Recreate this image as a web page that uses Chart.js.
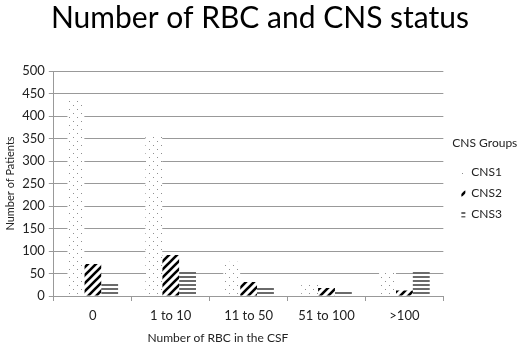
<!DOCTYPE html>
<html><head><meta charset="utf-8">
<script src="https://cdn.jsdelivr.net/npm/chart.js@4/dist/chart.umd.min.js"></script>
<style>html,body{margin:0;padding:0;background:#fff}#wrap{width:520px;height:345px}</style>
</head><body><div id="wrap"><canvas id="c" width="520" height="345"></canvas></div>
<script>
const categories = ['0', '1 to 10', '11 to 50', '51 to 100', '>100'];
const seriesNames = ['CNS1', 'CNS2', 'CNS3'];
const cns1 = [436, 357, 76, 25, 57];
const cns2 = [71, 91, 31, 18, 12];
const cns3 = [30, 58, 18, 10, 55];
const yTicks = [0, 50, 100, 150, 200, 250, 300, 350, 400, 450, 500];

function makePattern(kind) {
  const c = document.createElement('canvas');
  const ctx = c.getContext('2d');
  if (kind === 'dots') {
    c.width = 8; c.height = 8;
    ctx.fillStyle = '#fff'; ctx.fillRect(0,0,8,8);
    ctx.fillStyle = '#8f8f8f';
    ctx.fillRect(1,1,1,1); ctx.fillRect(5,5,1,1);
  } else if (kind === 'diag') {
    c.width = 8; c.height = 8;
    ctx.fillStyle = '#fff'; ctx.fillRect(0,0,8,8);
    ctx.strokeStyle = '#000'; ctx.lineWidth = 2.6;
    ctx.beginPath();
    ctx.moveTo(-2,10); ctx.lineTo(10,-2);
    ctx.moveTo(-6,6); ctx.lineTo(6,-6);
    ctx.moveTo(2,14); ctx.lineTo(14,2);
    ctx.stroke();
  } else {
    c.width = 4; c.height = 4;
    ctx.fillStyle = '#fff'; ctx.fillRect(0,0,4,4);
    ctx.fillStyle = '#6a6a6a'; ctx.fillRect(0,0,4,2);
  }
  return ctx.createPattern(c, 'repeat');
}
const pats = [makePattern('dots'), makePattern('diag'), makePattern('lines')];
const values = [cns1, cns2, cns3];
const FONT = 'Lato';

const widenLegend = {
  id: 'widenLegend',
  beforeInit(chart) {
    const lg = chart.legend;
    if (!lg) return;
    const origFit = lg.fit.bind(lg);
    lg.fit = function () { origFit(); this.width += 17; };
    const origDraw = lg.draw.bind(lg);
    lg.draw = function () {
      const ctx = this.ctx;
      ctx.save(); ctx.translate(9, 0); origDraw(); ctx.restore();
    };
  }
};

new Chart(document.getElementById('c'), {
  type: 'bar',
  data: {
    labels: categories,
    datasets: seriesNames.map((n, i) => ({
      label: n, data: values[i], backgroundColor: pats[i], borderWidth: 0,
      categoryPercentage: 0.65, barPercentage: 1.0
    }))
  },
  plugins: [widenLegend],
  options: {
    responsive: false, animation: false,
    layout: { padding: { left: 0, right: 0, top: 0, bottom: 0 } },
    plugins: {
      title: { display: true, text: 'Number of RBC and CNS status', color: '#000',
        font: { family: FONT, size: 30, weight: 'normal' }, padding: { top: 0, bottom: 35 } },
      legend: { position: 'right', align: 'start',
        title: { display: true, position: 'start', text: 'CNS Groups', color: '#222', font: { family: FONT, size: 12 }, padding: { top: 137, bottom: 6 } },
        labels: { boxWidth: 4, boxHeight: 6, color: '#222', font: { family: FONT, size: 12 }, padding: 9 } },
      tooltip: { enabled: false }
    },
    scales: {
      x: {
        grid: { display: true, drawOnChartArea: false, offset: true, color: '#999', tickLength: 5 },
        border: { color: '#999' },
        ticks: { color: '#222', font: { family: FONT, size: 13 }, padding: 7 },
        title: { display: true, text: 'Number of RBC in the CSF                    ', color: '#222', font: { family: FONT, size: 12 }, padding: { top: 0, bottom: 0 } }
      },
      y: {
        min: 0, max: 500,
        afterBuildTicks: (s) => { s.ticks = yTicks.map(v => ({ value: v })); },
        grid: { color: '#999', tickLength: 5 },
        border: { color: '#999' },
        ticks: { color: '#222', font: { family: FONT, size: 13 }, padding: 4 },
        title: { display: true, text: 'Number of Patients', color: '#222', font: { family: FONT, size: 11 }, padding: { bottom: 1 } }
      }
    }
  }
});
</script></body></html>
